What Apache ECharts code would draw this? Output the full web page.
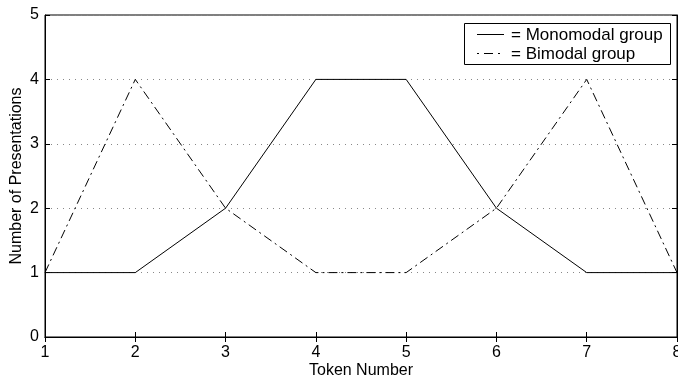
<!DOCTYPE html>
<html><head><meta charset="utf-8">
<script src="https://cdn.jsdelivr.net/npm/echarts@6/dist/echarts.min.js"></script>
<style>html,body{margin:0;padding:0;background:#fff}#c{width:678px;height:379px}</style>
</head><body><div id="c"></div>
<script>
const tokens = [1, 2, 3, 4, 5, 6, 7, 8];
const monomodal = [1, 1, 2, 4, 4, 2, 1, 1];
const bimodal = [1, 4, 2, 1, 1, 2, 4, 1];
const seriesNames = ['Monomodal group', 'Bimodal group'];

const font = 'Liberation Sans, Arial, Helvetica, sans-serif';
const dashDot = [9, 4, 2, 4];
const chart = echarts.init(document.getElementById('c'), null, {renderer: 'canvas'});
const pair = a => tokens.map((t, i) => [t, a[i]]);
const lineAxis = {lineStyle: {color: '#000', width: 1}};
chart.setOption({
  animation: false,
  grid: {left: 45, right: 1, top: 15, bottom: 42, show: true, borderColor: '#000', borderWidth: 1,
         outerBoundsMode: 'none', containLabel: false},
  graphic: [
    {type: 'rect', shape: {x: 464.5, y: 23.5, width: 206, height: 41},
     style: {fill: '#fff', stroke: '#000', lineWidth: 1}, z: 100},
    {type: 'line', shape: {x1: 477, y1: 34.5, x2: 504, y2: 34.5},
     style: {stroke: '#000', lineWidth: 1}, z: 101},
    {type: 'text', x: 511, y: 35, style: {text: '= ' + seriesNames[0], font: '17px ' + font, fill: '#000', textVerticalAlign: 'middle'}, z: 101},
    {type: 'line', shape: {x1: 477, y1: 53.5, x2: 504, y2: 53.5},
     style: {stroke: '#000', lineWidth: 1, lineDash: [2, 5, 9, 5]}, z: 101},
    {type: 'text', x: 511, y: 54, style: {text: '= ' + seriesNames[1], font: '17px ' + font, fill: '#000', textVerticalAlign: 'middle'}, z: 101}
  ],
  xAxis: [{
    type: 'value', min: 1, max: 8, interval: 1,
    name: 'Token Number', nameLocation: 'middle', nameGap: 26, nameMoveOverlap: false,
    nameTextStyle: {fontFamily: font, fontSize: 16, color: '#000'},
    axisLine: lineAxis, axisTick: {inside: true, length: 5, lineStyle: {color: '#000'}},
    axisLabel: {fontFamily: font, fontSize: 16, color: '#000', margin: 8},
    splitLine: {show: false}
  }, {
    type: 'value', min: 1, max: 8, interval: 1, position: 'top',
    axisLine: lineAxis, axisTick: {inside: true, length: 5, lineStyle: {color: '#000'}},
    axisLabel: {show: false}, splitLine: {show: false}
  }],
  yAxis: [{
    type: 'value', min: 0, max: 5, interval: 1,
    name: 'Number of Presentations', nameLocation: 'middle', nameGap: 20, nameMoveOverlap: false,
    nameTextStyle: {fontFamily: font, fontSize: 16, color: '#000'},
    axisLine: lineAxis, axisTick: {inside: true, length: 5, lineStyle: {color: '#000'}},
    axisLabel: {fontFamily: font, fontSize: 16, color: '#000', margin: 6},
    splitLine: {show: true, lineStyle: {color: '#888', type: [1, 5], width: 1}}
  }, {
    type: 'value', min: 0, max: 5, interval: 1, position: 'right',
    axisLine: lineAxis, axisTick: {inside: true, length: 5, lineStyle: {color: '#000'}},
    axisLabel: {show: false}, splitLine: {show: false}
  }],
  series: [{
    name: seriesNames[0], type: 'line', data: pair(monomodal), symbol: 'none',
    lineStyle: {color: '#000', width: 1}, itemStyle: {color: '#000'}
  }, {
    name: seriesNames[1], type: 'line', data: pair(bimodal), symbol: 'none',
    lineStyle: {color: '#000', width: 1, type: dashDot}, itemStyle: {color: '#000'}
  }]
});
</script></body></html>
